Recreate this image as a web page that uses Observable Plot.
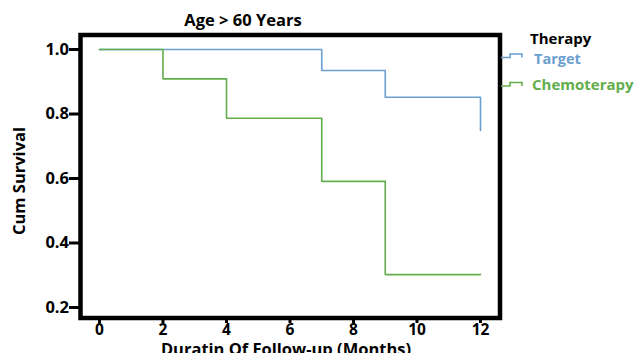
<!DOCTYPE html>
<html><head><meta charset="utf-8">
<script src="https://cdn.jsdelivr.net/npm/d3@7"></script>
<script src="https://cdn.jsdelivr.net/npm/@observablehq/plot@0.6"></script>
<style>
body{margin:0;background:#fff;}
svg{font-family:"Open Sans",sans-serif;}
</style></head><body>
<div id="chart"></div>
<script>
const groups = ["Target", "Chemoterapy"];
const colors = ["#6a9fd0", "#62ad4b"];
const targetMonths = [0, 7, 9, 12];
const targetSurvival = [1.0, 0.935, 0.852, 0.749];
const chemoMonths = [0, 2, 4, 7, 9, 12];
const chemoSurvival = [1.0, 0.909, 0.787, 0.591, 0.302, 0.302];
const xTicks = [0, 2, 4, 6, 8, 10, 12];
const yTicks = [0.2, 0.4, 0.6, 0.8, 1.0];

const data = [
  ...targetMonths.map((m, i) => ({group: groups[0], month: m, surv: targetSurvival[i]})),
  ...chemoMonths.map((m, i) => ({group: groups[1], month: m, surv: chemoSurvival[i]}))
];

const W = 635, H = 353;
const mL = 80, mR = 135.5, mT = 34.5, mB = 35.5;
const f = "'Open Sans', sans-serif";

const plot = Plot.plot({
  width: W, height: H,
  marginLeft: mL, marginRight: mR, marginTop: mT, marginBottom: mB,
  style: {fontFamily: f, fontSize: "16px", fontWeight: "bold", color: "#000", background: "#fff", overflow: "visible"},
  x: {domain: [-0.598, 12.614], ticks: xTicks, label: null},
  y: {domain: [0.1674, 1.045], ticks: yTicks, label: null, tickFormat: d3.format(".1f")},
  color: {domain: groups, range: colors},
  marks: [
    Plot.axisX({ticks: xTicks, tickSize: 6, tickPadding: 0, strokeWidth: 3, label: null, fontSize: 15.5, fontWeight: "bold", dy: -0.5}),
    Plot.axisY({ticks: yTicks, tickSize: 11, tickPadding: 0.5, strokeWidth: 3, label: null, fontSize: 16.5, fontWeight: "bold", tickFormat: d3.format(".1f")}),
    Plot.line(data, {x: "month", y: "surv", z: "group", stroke: "group", curve: "step-after", strokeWidth: 1.6}),
    Plot.frame({stroke: "#000", strokeWidth: 4.5})
  ]
});

const svg = d3.select(plot);
svg.append("text").attr("x", 243).attr("y", 26).attr("text-anchor", "middle")
  .attr("font-family", f).attr("font-weight", "bold").attr("font-size", 16.5).attr("fill", "#000").text("Age > 60 Years");
svg.append("text").attr("transform", "translate(25,181) rotate(-90)").attr("text-anchor", "middle")
  .attr("font-family", f).attr("font-weight", "bold").attr("font-size", 16.5).attr("fill", "#000").text("Cum Survival");
svg.append("text").attr("x", 286).attr("y", 355).attr("text-anchor", "middle")
  .attr("font-family", f).attr("font-weight", "bold").attr("font-size", 16.5).attr("fill", "#000").text("Duratin Of Follow-up (Months)");

// legend
const lg = svg.append("g").attr("font-family", f).attr("font-weight", "bold").attr("text-anchor", "start");
lg.append("text").attr("x", 530).attr("y", 44).attr("font-size", 15).attr("fill", "#000").text("Therapy");
const rows = [{y: 57.5, tx: 534, ty: 63.5, fs: 14.5}, {y: 86, tx: 532, ty: 90, fs: 15}];
groups.forEach((g, i) => {
  const r = rows[i];
  lg.append("path").attr("d", `M501,${r.y}H510V${r.y-3.5}H522V${r.y}`).attr("fill", "none")
    .attr("stroke", colors[i]).attr("stroke-width", 1.6);
  lg.append("text").attr("x", r.tx).attr("y", r.ty).attr("font-size", r.fs).attr("fill", colors[i]).text(g);
});

document.getElementById("chart").appendChild(plot);
</script>
</body></html>
